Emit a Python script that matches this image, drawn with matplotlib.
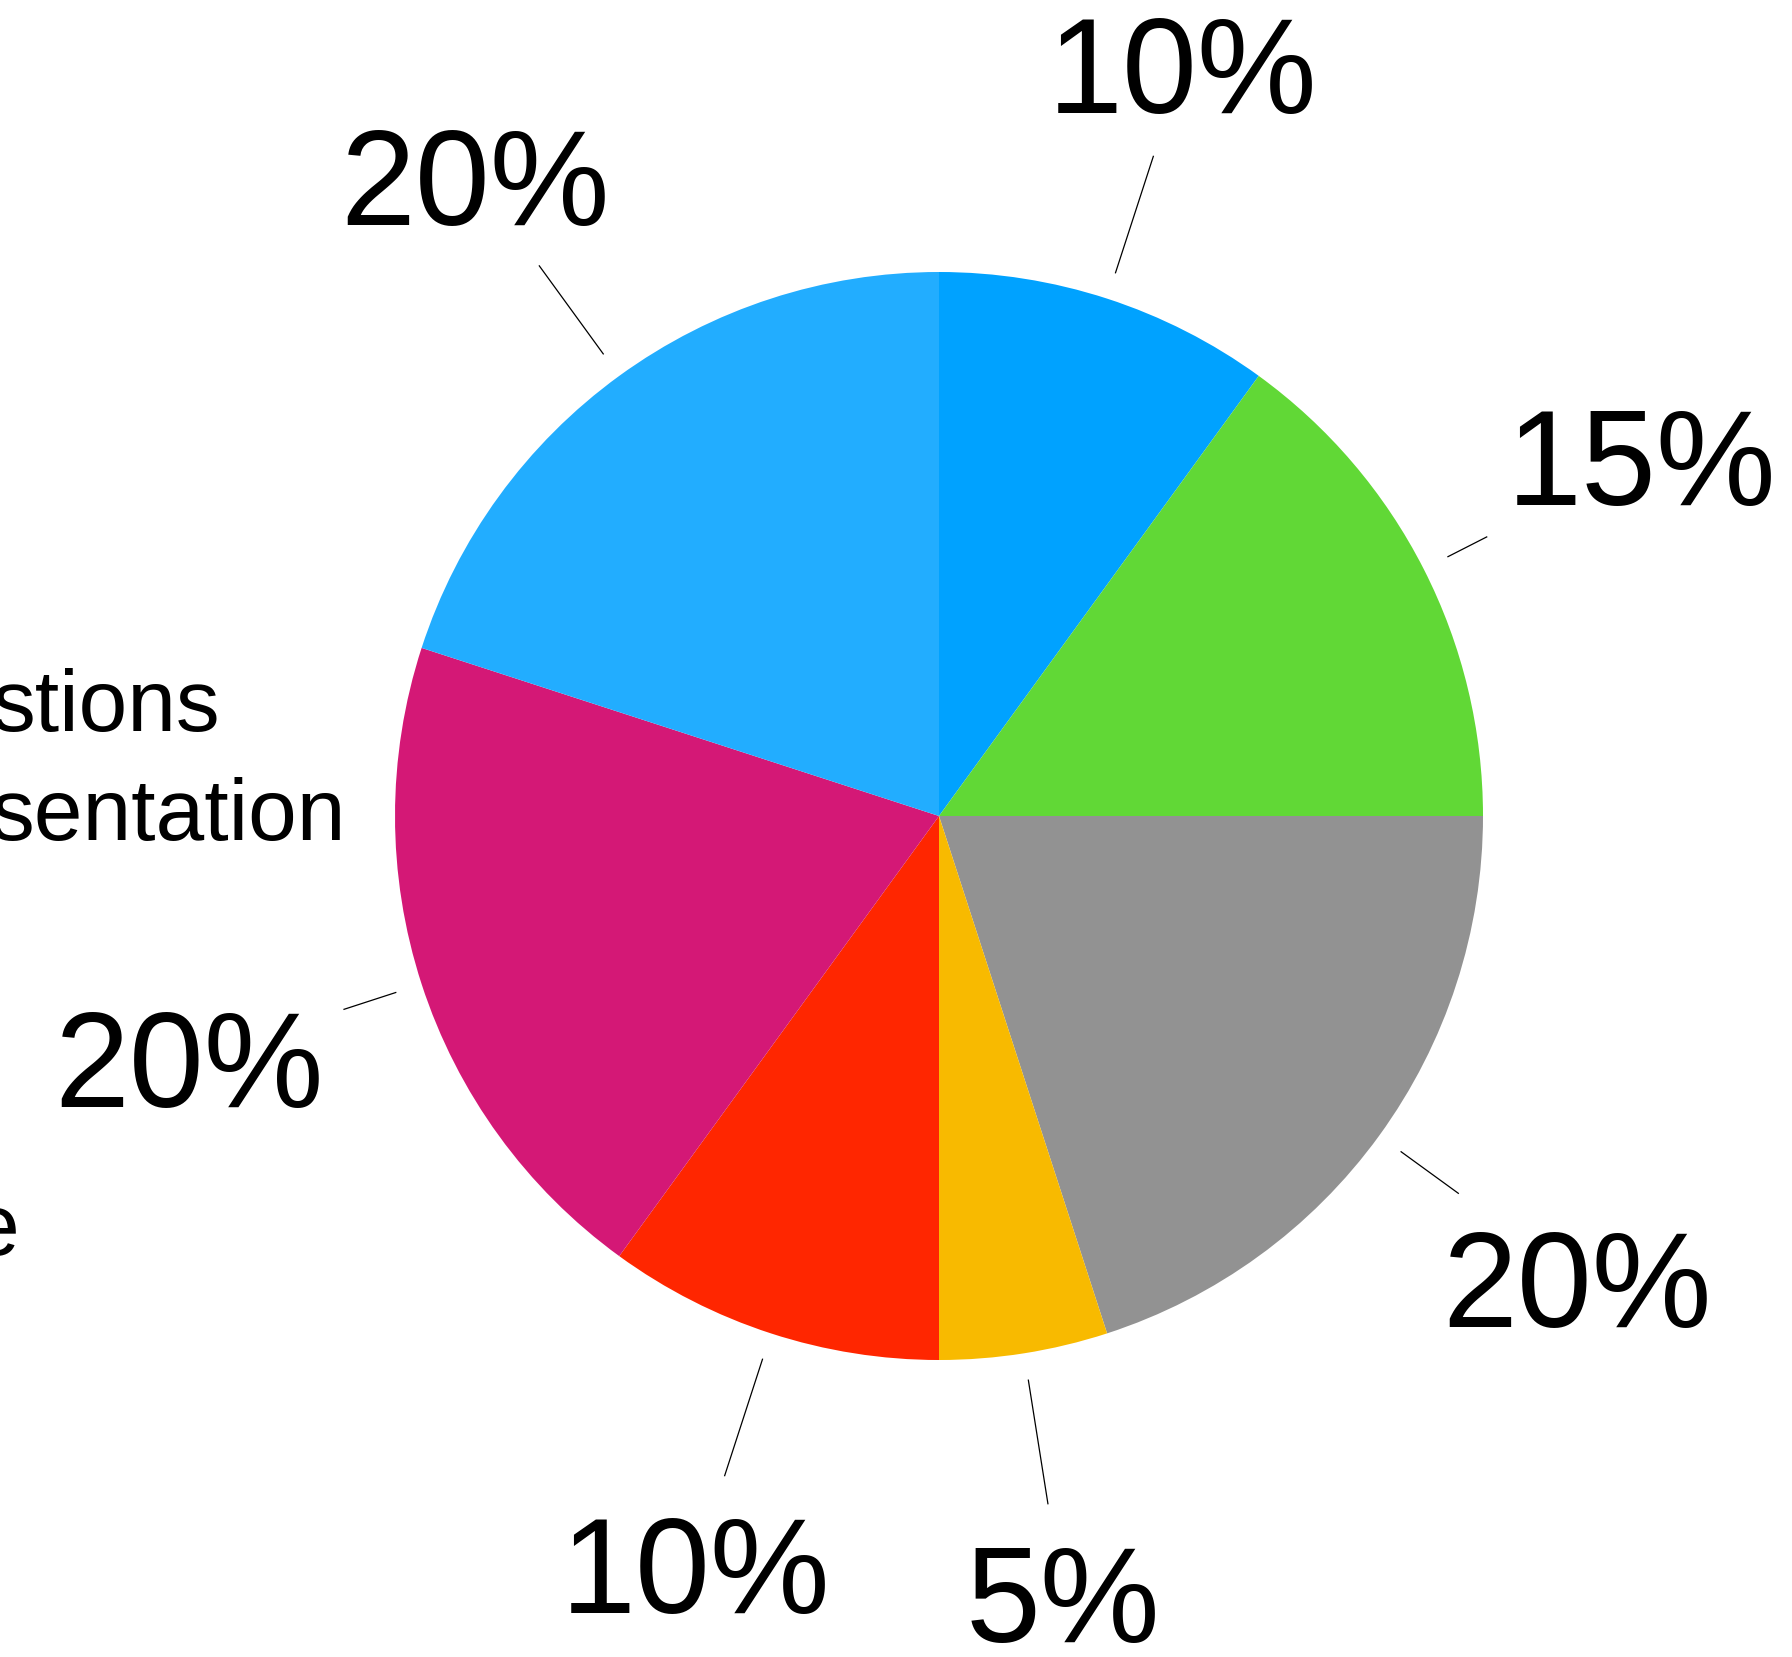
import matplotlib.pyplot as plt
import numpy as np

plt.rcParams['font.family'] = ['Liberation Sans', 'DejaVu Sans']

shares = [10, 15, 20, 5, 10, 20, 20]
pct_labels = ['10%', '15%', '20%', '5%', '10%', '20%', '20%']
colors = ['#00A2FF', '#61D836', '#929292', '#F8BA00', '#FF2600', '#D41876', '#22ADFF']
# outer end of each leader line, in pie radii
leader_end = [1.275, 1.13, 1.18, 1.28, 1.275, 1.15, 1.25]

# clipped legend text at the left edge
side_texts = ['stions', 'sentation', 'e']

W, H = 1792, 1657
cx, cy, R = 939, 816, 544

fig = plt.figure(figsize=(W / 100, H / 100), dpi=100)
ax = fig.add_axes([0, 0, 1, 1])

wedges, _ = ax.pie(shares, colors=colors, startangle=90, counterclock=False,
                   radius=1.0, wedgeprops=dict(linewidth=0))

ax.set_aspect('auto')
ax.set_xlim(-cx / R, (W - cx) / R)
ax.set_ylim(-(H - cy) / R, cy / R)
ax.axis('off')

for w, lab, r2 in zip(wedges, pct_labels, leader_end):
    a = np.deg2rad((w.theta1 + w.theta2) / 2)
    c, s = np.cos(a), np.sin(a)
    ax.plot([1.05 * c, r2 * c], [1.05 * s, r2 * s], color='black', lw=0.9)
    ax.text(1.45 * c, 1.45 * s - 12 / R, lab, ha='center', va='center', fontsize=97)

# fragments of the legend that run off the left side
ax.text(220 / R - cx / R, cy / R - 731 / R, side_texts[0], ha='right', va='baseline', fontsize=63)
ax.text(346 / R - cx / R, cy / R - 840 / R, side_texts[1], ha='right', va='baseline', fontsize=63)
ax.text(19 / R - cx / R, cy / R - 1255 / R, side_texts[2], ha='right', va='baseline', fontsize=63)

fig.savefig('out.png', dpi=100)
